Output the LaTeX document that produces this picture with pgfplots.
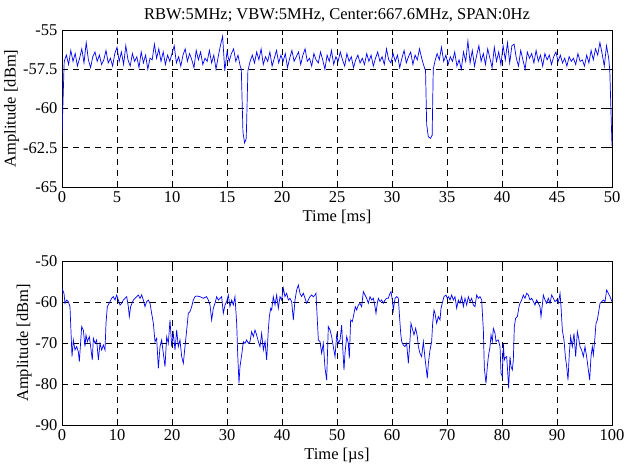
\documentclass[border=0pt]{standalone}
\usepackage{pgfplots}
\pgfplotsset{compat=1.18}
\usepackage{fontspec}
\setmainfont{Liberation Serif}
\begin{document}
\begin{tikzpicture}
\pgfplotsset{
  mstyle/.style={
    scale only axis, anchor=south west,
    width=550pt,
    font=\fontsize{16.5}{19}\selectfont,
    tick label style={font=\fontsize{16.5}{19}\selectfont},
    /pgf/number format/assume math mode=true,
    grid=major,
    major grid style={black, line width=0.5pt, dash pattern=on 6pt off 5pt},
    tick align=inside, major tick length=5pt,
    tick style={black, line width=0.5pt},
    axis line style={black, line width=0.8pt},
    xticklabel style={yshift=-1pt},
    yticklabel style={xshift=-1pt},
    every axis y label/.style={at={(ticklabel cs:0.5)}, rotate=90, anchor=south, yshift=-3pt},
    every axis x label/.style={at={(ticklabel cs:0.5)}, anchor=north, yshift=-1pt},
  }
}
\path[use as bounding box] (0,0) rectangle (626pt,473pt);
\begin{axis}[mstyle, at={(62pt,286pt)}, height=157pt,
  xmin=0, xmax=50, ymin=-65, ymax=-55,
  xtick={0,5,...,50}, ytick={-65,-62.5,-60,-57.5,-55},
  xlabel={Time [ms]}, ylabel={Amplitude [dBm]},
  title={RBW:5MHz; VBW:5MHz, Center:667.6MHz, SPAN:0Hz},
  title style={yshift=-2pt}]
\addplot[blue, line width=0.7pt] table {
0.0 -61.7
0.2 -57.0
0.4 -56.6
0.6 -57.2
0.8 -56.3
1.0 -57.0
1.2 -56.5
1.4 -57.3
1.6 -56.8
1.8 -56.2
2.0 -57.1
2.2 -55.8
2.4 -56.9
2.6 -57.4
2.8 -56.7
3.0 -56.4
3.2 -57.0
3.4 -56.6
3.6 -57.2
3.8 -56.9
4.0 -56.3
4.2 -57.1
4.4 -56.8
4.6 -57.3
4.8 -56.5
5.0 -56.1
5.2 -57.0
5.4 -56.4
5.6 -57.2
5.8 -56.0
6.0 -56.9
6.2 -57.3
6.4 -56.5
6.6 -57.0
6.8 -56.7
7.0 -57.4
7.2 -56.4
7.4 -57.1
7.6 -56.6
7.8 -57.5
8.0 -56.8
8.2 -56.9
8.4 -55.9
8.6 -56.8
8.8 -56.2
9.0 -57.0
9.2 -56.4
9.4 -57.2
9.6 -56.6
9.8 -57.0
10.0 -56.5
10.2 -56.0
10.4 -57.1
10.6 -56.7
10.8 -57.3
11.0 -56.6
11.2 -56.2
11.4 -57.0
11.6 -56.5
11.8 -56.9
12.0 -57.4
12.2 -56.3
12.4 -56.9
12.6 -56.4
12.8 -57.2
13.0 -56.8
13.2 -57.0
13.4 -56.3
13.6 -57.1
13.8 -56.6
14.0 -57.5
14.2 -56.7
14.4 -56.0
14.6 -55.4
14.8 -57.6
15.0 -56.4
15.2 -57.0
15.4 -56.5
15.6 -56.2
15.8 -57.0
16.0 -56.6
16.2 -57.3
16.3 -57.5
16.45 -61.5
16.6 -62.2
16.75 -61.9
16.9 -57.6
17.1 -57.0
17.3 -56.6
17.5 -57.1
17.7 -56.4
17.9 -56.9
18.1 -56.2
18.3 -57.2
18.5 -56.7
18.7 -57.0
18.9 -56.4
19.1 -57.3
19.3 -56.8
19.5 -56.3
19.7 -57.1
19.9 -56.6
20.1 -57.0
20.3 -56.5
20.5 -57.4
20.7 -56.8
20.9 -56.3
21.1 -57.0
21.3 -56.7
21.5 -56.4
21.7 -57.2
21.9 -56.6
22.1 -56.2
22.3 -57.0
22.5 -56.8
22.7 -57.3
22.9 -56.5
23.1 -56.9
23.3 -57.1
23.5 -56.4
23.7 -56.9
23.9 -57.5
24.1 -56.6
24.3 -57.0
24.5 -56.3
24.7 -57.2
24.9 -56.7
25.1 -57.0
25.3 -56.4
25.5 -56.9
25.7 -57.3
25.9 -56.5
26.1 -57.0
26.3 -56.7
26.5 -57.4
26.7 -56.9
26.9 -56.6
27.1 -57.1
27.3 -56.8
27.5 -57.2
27.7 -56.5
27.9 -57.0
28.1 -56.6
28.3 -57.3
28.5 -56.8
28.7 -56.4
28.9 -57.0
29.1 -56.7
29.3 -57.2
29.5 -56.2
29.7 -56.9
29.9 -57.1
30.1 -56.5
30.3 -57.0
30.5 -56.6
30.7 -57.4
30.9 -56.8
31.1 -56.3
31.3 -57.1
31.5 -56.7
31.7 -56.4
31.9 -57.2
32.1 -56.6
32.3 -56.9
32.5 -56.2
32.7 -56.8
32.9 -57.3
33.05 -57.6
33.15 -61.0
33.3 -61.8
33.5 -61.9
33.65 -61.7
33.75 -57.5
33.9 -57.0
34.1 -56.5
34.3 -56.9
34.5 -56.1
34.7 -57.0
34.9 -56.6
35.1 -57.2
35.3 -56.7
35.5 -57.0
35.7 -56.4
35.9 -57.3
36.1 -56.9
36.3 -57.5
36.5 -56.4
36.7 -57.0
36.9 -55.7
37.1 -57.1
37.3 -56.3
37.5 -57.3
37.7 -56.6
37.9 -56.0
38.1 -57.0
38.3 -56.5
38.5 -57.2
38.7 -56.2
38.9 -56.8
39.1 -57.4
39.3 -56.1
39.5 -57.0
39.7 -56.4
39.9 -57.2
40.1 -56.0
40.3 -56.9
40.5 -55.8
40.7 -57.1
40.9 -56.0
41.1 -55.9
41.3 -56.8
41.5 -57.3
41.7 -56.3
41.9 -56.9
42.1 -57.5
42.3 -56.4
42.5 -56.8
42.7 -56.5
42.9 -57.1
43.1 -56.3
43.3 -57.0
43.5 -56.6
43.7 -57.3
43.9 -56.5
44.1 -56.9
44.3 -56.6
44.5 -57.2
44.7 -56.7
44.9 -56.4
45.1 -57.0
45.3 -56.6
45.5 -57.1
45.7 -56.8
45.9 -57.3
46.1 -56.7
46.3 -57.0
46.5 -56.8
46.7 -57.2
46.9 -56.5
47.1 -57.0
47.3 -56.9
47.5 -57.3
47.7 -56.6
47.9 -57.1
48.1 -56.3
48.3 -56.9
48.5 -56.2
48.7 -56.6
48.9 -55.8
49.1 -56.5
49.3 -57.3
49.5 -56.0
49.7 -56.8
49.8 -57.6
50.0 -62.4
};
\end{axis}
\begin{axis}[mstyle, at={(62pt,48pt)}, height=164pt,
  xmin=0, xmax=100, ymin=-90, ymax=-50,
  xtick={0,10,...,100}, ytick={-90,-80,...,-50},
  xlabel={Time [µs]}, ylabel={Amplitude [dBm]}]
\addplot[blue, line width=0.7pt] table {
0.00 -56.66
0.36 -57.88
0.55 -60.32
0.85 -59.51
1.15 -59.91
1.45 -61.13
1.82 -73.33
2.06 -69.26
2.36 -71.70
2.67 -70.89
2.97 -72.11
3.15 -74.55
3.58 -66.01
3.88 -66.83
4.18 -70.89
4.36 -68.04
4.61 -69.67
4.97 -68.45
5.21 -70.89
5.51 -74.14
5.70 -68.86
6.00 -70.08
6.30 -69.26
6.61 -74.14
6.91 -70.08
7.21 -71.70
7.52 -70.48
7.82 -71.70
8.00 -65.20
8.24 -61.13
8.73 -59.91
9.03 -59.10
9.33 -58.70
9.64 -59.51
9.94 -58.29
10.24 -59.51
10.55 -60.73
10.85 -60.32
11.15 -59.51
11.45 -59.10
11.76 -58.70
12.06 -61.13
12.24 -63.57
12.48 -61.13
12.97 -59.51
13.27 -59.10
13.58 -58.70
13.88 -58.29
14.18 -59.10
14.48 -58.29
14.79 -59.51
15.09 -61.13
15.39 -59.91
15.70 -59.51
16.00 -60.32
16.30 -62.76
16.61 -65.20
16.91 -69.67
17.21 -68.86
17.52 -76.17
17.82 -70.89
18.12 -69.26
18.42 -72.52
18.73 -75.77
19.03 -68.45
19.33 -70.08
19.64 -64.39
19.94 -70.89
20.24 -67.64
20.55 -71.70
20.85 -66.83
21.15 -70.89
21.45 -69.26
21.76 -73.33
22.06 -74.96
22.36 -70.89
22.67 -66.83
22.97 -62.76
23.27 -62.35
23.58 -61.13
23.88 -59.51
24.18 -58.70
24.48 -58.53
25.09 -58.70
25.70 -59.10
26.30 -58.70
26.60 -59.51
26.91 -60.73
27.21 -64.39
27.51 -61.54
27.82 -60.32
28.12 -58.70
28.42 -59.51
28.73 -59.10
29.03 -58.70
29.33 -62.76
29.64 -60.73
29.94 -59.91
30.24 -58.29
30.54 -61.13
30.85 -59.51
31.15 -60.73
31.45 -58.70
31.76 -65.20
31.94 -72.52
32.18 -79.83
32.36 -75.77
32.67 -72.92
32.97 -69.67
33.27 -70.08
33.57 -69.26
33.88 -70.08
34.18 -69.67
34.48 -67.23
34.79 -68.45
35.09 -66.83
35.39 -68.04
35.70 -69.67
36.00 -70.89
36.30 -67.64
36.61 -71.70
36.91 -69.67
37.21 -74.14
37.51 -66.83
37.70 -63.57
37.94 -61.54
38.12 -61.95
38.42 -58.70
38.73 -60.73
39.03 -58.29
39.33 -61.54
39.64 -58.70
39.94 -59.51
40.24 -56.66
40.54 -58.70
40.85 -57.88
41.15 -59.51
41.45 -59.10
41.76 -59.91
42.06 -64.39
42.36 -59.51
42.67 -57.07
42.97 -55.85
43.27 -57.88
43.57 -58.70
43.88 -57.88
44.18 -59.10
44.48 -60.32
44.79 -59.51
45.09 -58.70
45.39 -58.29
45.70 -58.70
46.00 -58.29
46.18 -57.88
46.42 -64.39
46.61 -69.26
46.91 -69.67
47.21 -72.52
47.51 -70.08
47.82 -76.17
48.12 -79.02
48.42 -66.01
48.73 -66.83
49.03 -68.45
49.33 -70.89
49.64 -73.33
49.94 -68.04
50.24 -70.08
50.55 -69.26
50.85 -65.61
51.03 -70.89
51.27 -76.58
51.45 -72.52
51.76 -68.45
52.06 -70.08
52.24 -73.74
52.48 -64.39
52.79 -64.79
53.09 -62.76
53.33 -61.13
53.58 -61.95
53.88 -60.73
54.18 -60.32
54.48 -61.13
54.79 -57.48
55.09 -58.29
55.39 -59.10
55.70 -60.32
56.00 -58.70
56.30 -59.51
56.61 -59.10
56.91 -61.13
57.09 -62.76
57.33 -60.32
57.52 -59.10
57.82 -59.91
58.12 -59.51
58.42 -60.32
58.73 -59.51
59.03 -59.10
59.33 -59.10
59.64 -57.88
59.82 -57.48
60.06 -59.51
60.24 -61.95
60.55 -59.10
60.85 -58.70
61.15 -59.10
61.33 -62.76
61.58 -67.64
61.76 -69.67
62.06 -70.48
62.36 -70.89
62.67 -70.08
62.97 -74.96
63.27 -69.26
63.45 -65.20
63.76 -66.83
64.00 -68.04
64.30 -66.42
64.61 -68.45
64.79 -70.89
65.09 -72.52
65.39 -73.33
65.70 -69.67
66.00 -73.74
66.18 -75.77
66.42 -78.61
66.61 -74.96
66.91 -71.70
67.21 -69.67
67.39 -65.20
67.64 -61.95
67.82 -62.76
68.12 -65.20
68.42 -63.57
68.73 -64.39
68.91 -61.54
69.21 -59.91
69.45 -58.70
69.82 -58.29
70.06 -59.10
70.30 -58.70
70.55 -59.51
70.85 -58.29
71.15 -59.51
71.45 -58.70
71.76 -61.54
72.06 -59.51
72.36 -60.32
72.67 -58.70
72.97 -61.13
73.27 -59.10
73.58 -60.73
73.88 -58.70
74.18 -59.91
74.48 -59.10
74.79 -60.73
75.09 -61.13
75.39 -58.29
75.70 -59.10
76.00 -58.70
76.30 -59.51
76.61 -66.83
76.79 -76.17
77.09 -79.83
77.33 -75.77
77.52 -73.33
77.82 -70.89
78.00 -68.04
78.24 -69.67
78.42 -66.42
78.73 -67.64
78.91 -69.67
79.15 -69.30
79.33 -69.26
79.64 -70.89
79.82 -77.39
80.06 -78.21
80.24 -70.08
80.42 -74.14
80.61 -73.50
80.85 -73.33
81.03 -76.99
81.21 -81.05
81.45 -73.33
81.64 -75.77
81.88 -76.58
82.06 -74.14
82.24 -66.01
82.48 -63.98
82.79 -63.57
83.09 -61.13
83.27 -60.32
83.58 -59.51
83.88 -58.29
84.18 -59.10
84.48 -57.88
84.79 -58.29
85.09 -59.51
85.39 -59.10
85.70 -59.91
86.00 -60.73
86.30 -59.51
86.61 -60.32
86.91 -61.13
87.09 -63.57
87.33 -60.73
87.52 -58.29
87.82 -59.51
88.12 -60.32
88.42 -59.10
88.73 -60.32
89.03 -58.29
89.33 -59.10
89.64 -59.91
89.94 -59.51
90.24 -60.32
90.55 -57.88
90.73 -61.13
90.97 -66.83
91.27 -69.26
91.52 -73.33
91.76 -75.77
92.00 -79.02
92.24 -72.52
92.48 -68.45
92.79 -70.89
93.09 -67.64
93.39 -73.33
93.70 -67.23
93.94 -68.86
94.18 -70.89
94.48 -71.70
94.79 -73.33
95.09 -70.89
95.39 -73.33
95.70 -76.58
95.94 -79.02
96.18 -73.33
96.42 -70.89
96.61 -72.92
96.91 -68.45
97.09 -65.20
97.33 -64.39
97.58 -62.35
97.82 -60.32
98.12 -59.91
98.42 -59.51
98.73 -59.91
99.03 -57.07
99.33 -57.88
99.64 -58.70
100.00 -59.91
};
\end{axis}
\end{tikzpicture}
\end{document}
